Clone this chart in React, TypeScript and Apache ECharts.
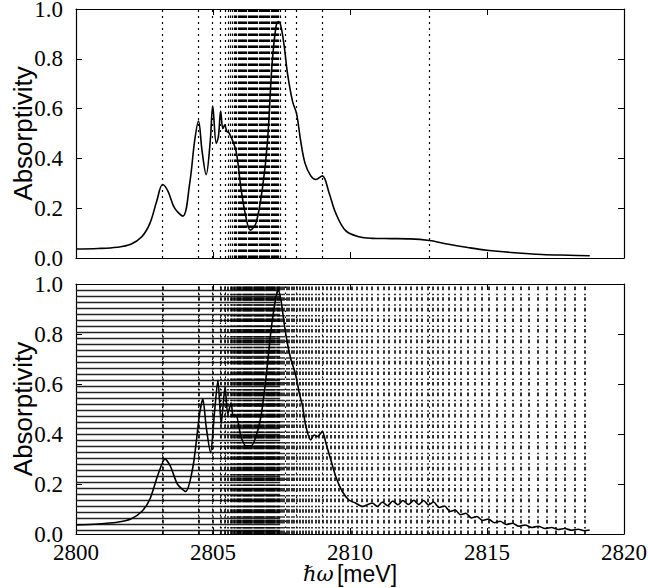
import React, { useEffect, useRef } from "react";
import * as echarts from "echarts";

const X_MIN = 2800;
const X_MAX = 2820;
const xTickInterval = 5;
const yTickInterval = 0.2;

// Top panel curve (meV, absorptivity)
const topCurve: [number, number][] = [
  [2800.0, 0.036], [2800.8, 0.038], [2801.5, 0.043], [2802.0, 0.055], [2802.4, 0.085],
  [2802.7, 0.14], [2802.95, 0.23], [2803.16, 0.295], [2803.35, 0.27], [2803.6, 0.2],
  [2803.9, 0.168], [2804.15, 0.3], [2804.33, 0.47], [2804.47, 0.55], [2804.6, 0.43],
  [2804.75, 0.335], [2804.9, 0.47], [2804.99, 0.61], [2805.12, 0.46], [2805.2, 0.49],
  [2805.28, 0.59], [2805.36, 0.52], [2805.43, 0.535], [2805.5, 0.51], [2805.6, 0.5],
  [2805.84, 0.43], [2806.02, 0.28], [2806.2, 0.165], [2806.36, 0.112], [2806.57, 0.14],
  [2806.81, 0.285], [2806.99, 0.47], [2807.15, 0.77], [2807.3, 0.93], [2807.39, 0.95],
  [2807.48, 0.93], [2807.6, 0.85], [2807.72, 0.74], [2807.9, 0.63], [2808.05, 0.58],
  [2808.2, 0.47], [2808.36, 0.38], [2808.57, 0.33], [2808.75, 0.315], [2808.99, 0.33],
  [2809.24, 0.26], [2809.48, 0.18], [2809.84, 0.11], [2810.33, 0.085], [2810.8, 0.079],
  [2811.5, 0.078], [2812.2, 0.077], [2812.9, 0.07], [2813.6, 0.055], [2814.3, 0.042],
  [2815.0, 0.031], [2816.0, 0.021], [2817.0, 0.014], [2818.0, 0.011], [2818.75, 0.009],
];

// Bottom panel curve
const bottomCurve: [number, number][] = [
  [2800.0, 0.036], [2800.8, 0.04], [2801.5, 0.047], [2802.0, 0.06], [2802.4, 0.09],
  [2802.7, 0.14], [2803.0, 0.24], [2803.25, 0.3], [2803.45, 0.27], [2803.7, 0.2],
  [2804.0, 0.17], [2804.27, 0.27], [2804.51, 0.48], [2804.63, 0.54], [2804.75, 0.43],
  [2804.91, 0.325], [2805.05, 0.48], [2805.18, 0.616], [2805.3, 0.44], [2805.44, 0.59],
  [2805.54, 0.48], [2805.66, 0.525], [2805.74, 0.47], [2805.84, 0.475], [2806.02, 0.39],
  [2806.2, 0.353], [2806.39, 0.353], [2806.57, 0.39], [2806.75, 0.47], [2806.93, 0.62],
  [2807.12, 0.816], [2807.3, 0.95], [2807.38, 0.975], [2807.48, 0.936], [2807.6, 0.84],
  [2807.72, 0.76], [2807.84, 0.7], [2808.02, 0.635], [2808.15, 0.563], [2808.27, 0.51],
  [2808.39, 0.43], [2808.57, 0.376], [2808.69, 0.396], [2808.81, 0.39], [2808.99, 0.41],
  [2809.12, 0.364], [2809.3, 0.296], [2809.48, 0.23], [2809.72, 0.17], [2809.96, 0.136],
  [2810.2, 0.124], [2810.45, 0.11], [2810.81, 0.124], [2811.0, 0.11], [2811.18, 0.128],
  [2811.37, 0.113], [2811.56, 0.132], [2811.75, 0.117], [2811.93, 0.134], [2812.13, 0.118],
  [2812.33, 0.135], [2812.51, 0.118], [2812.69, 0.134], [2812.87, 0.116], [2813.05, 0.128],
  [2813.25, 0.106], [2813.45, 0.112], [2813.65, 0.09], [2813.84, 0.096], [2814.03, 0.077],
  [2814.23, 0.083], [2814.43, 0.064], [2814.63, 0.07], [2814.84, 0.054], [2815.05, 0.06],
  [2815.27, 0.045], [2815.48, 0.051], [2815.7, 0.038], [2815.93, 0.043], [2816.16, 0.031],
  [2816.39, 0.036], [2816.63, 0.026], [2816.87, 0.031], [2817.12, 0.022], [2817.36, 0.026],
  [2817.6, 0.018], [2817.84, 0.022], [2818.08, 0.015], [2818.33, 0.019], [2818.55, 0.013],
  [2818.75, 0.016],
];

// Energies of the dotted vertical lines (meV)
const sparseLeftLevels = [2803.16, 2804.47, 2804.99, 2805.27, 2805.44];
const sparseRightLevels = [2807.62, 2808.05, 2808.99, 2812.89];
const denseLevels = [
  2805.55, 2805.63, 2805.7, 2805.76, 2805.81, 2805.86, 2805.91, 2805.95, 2805.99, 2806.03,
  2806.07, 2806.11, 2806.15, 2806.19, 2806.23, 2806.27, 2806.31, 2806.35, 2806.39, 2806.43,
  2806.47, 2806.51, 2806.55, 2806.59, 2806.63, 2806.67, 2806.71, 2806.75, 2806.79, 2806.83,
  2806.87, 2806.91, 2806.95, 2806.99, 2807.03, 2807.07, 2807.11, 2807.15, 2807.19, 2807.23,
  2807.27, 2807.31, 2807.35, 2807.39, 2807.44,
];
const rightLevels = [
  2807.52, 2807.6, 2807.68, 2807.77, 2807.86, 2807.96, 2808.06, 2808.16, 2808.27, 2808.38,
  2808.5, 2808.62, 2808.74, 2808.87, 2809.0, 2809.14, 2809.28, 2809.43, 2809.58, 2809.74,
  2809.9, 2810.07, 2810.24, 2810.42, 2810.61, 2810.81, 2811.02, 2811.23, 2811.42, 2811.63,
  2811.83, 2812.03, 2812.23, 2812.42, 2812.63, 2812.84, 2813.02, 2813.2, 2813.4, 2813.6,
  2813.82, 2814.06, 2814.3, 2814.55, 2814.81, 2815.08, 2815.36, 2815.64, 2815.93, 2816.23,
  2816.53, 2816.85, 2817.17, 2817.5, 2817.84, 2818.21, 2818.57,
];
// Horizontal rows in the lower panel (left part)
const rowLevels = [
  0.016, 0.04, 0.064, 0.088, 0.112, 0.136, 0.16, 0.184, 0.208, 0.232, 0.256, 0.28, 0.304,
  0.328, 0.352, 0.376, 0.4, 0.424, 0.448, 0.472, 0.496, 0.52, 0.544, 0.568, 0.592, 0.616,
  0.64, 0.664, 0.688, 0.712, 0.736, 0.76, 0.784, 0.808, 0.832, 0.856, 0.88, 0.904, 0.928,
  0.952, 0.976,
];
const ROW_START = 2800;
const ROW_END = 2807.45;

const SERIF = "Liberation Serif";
const SANS = "Liberation Sans";

function markSeries(idx: number, data: any[], lineStyle: any, z: number) {
  return {
    type: "line",
    xAxisIndex: idx,
    yAxisIndex: idx,
    data: [[X_MIN, 0], [X_MAX, 0]],
    symbol: "none",
    showSymbol: false,
    lineStyle: { opacity: 0 },
    silent: true,
    z,
    markLine: {
      silent: true,
      animation: false,
      symbol: ["none", "none"],
      label: { show: false },
      emphasis: { disabled: true },
      lineStyle,
      data,
    },
  };
}

function baseX(gridIndex: number, position: string, showLabels: boolean, extra: any = {}) {
  return {
    type: "value",
    gridIndex,
    position,
    min: X_MIN,
    max: X_MAX,
    interval: xTickInterval,
    axisLine: { show: true, onZero: false, lineStyle: { color: "#000", width: 1.2 } },
    axisTick: { show: true, inside: true, length: 6, lineStyle: { color: "#000", width: 1 } },
    axisLabel: {
      show: showLabels,
      fontFamily: SERIF,
      fontSize: 23,
      color: "#000",
      margin: 7,
      formatter: (v: number) => String(v),
    },
    splitLine: { show: false },
    ...extra,
  };
}

function baseY(gridIndex: number, position: string, showLabels: boolean, extra: any = {}) {
  return {
    type: "value",
    gridIndex,
    position,
    min: 0,
    max: 1,
    interval: yTickInterval,
    axisLine: { show: true, onZero: false, lineStyle: { color: "#000", width: 1.2 } },
    axisTick: { show: true, inside: true, length: 6, lineStyle: { color: "#000", width: 1 } },
    axisLabel: {
      show: showLabels,
      fontFamily: SERIF,
      fontSize: 23,
      color: "#000",
      margin: 13,
      formatter: (v: number) => v.toFixed(1),
    },
    splitLine: { show: false },
    ...extra,
  };
}

const yName = {
  name: "Absorptivity",
  nameLocation: "middle",
  nameGap: 40,
  nameMoveOverlap: false,
  nameTextStyle: { fontFamily: SANS, fontSize: 26, color: "#000" },
};

export default function App() {
  const ref = useRef<HTMLDivElement>(null);
  useEffect(() => {
    if (!ref.current) return;
    const chart = echarts.init(ref.current, null, { renderer: "svg" });
    const fineDot = { type: [2, 4], color: "#000", width: 1.2 };
    const denseDot = { type: [2.5, 3.5], color: "#000", width: 1.2 };
    const barDot = { type: [3.6, 2, 1.5, 3.5], color: "#000", width: 1.6 };

    const topSparse = [...sparseLeftLevels, ...sparseRightLevels].map((v) => ({ xAxis: v }));
    const topDense = denseLevels.map((v) => ({ xAxis: v }));
    const bottomFine = [...sparseLeftLevels, ...sparseRightLevels].map((v) => ({ xAxis: v }));
    const bottomBars = [...sparseLeftLevels, ...denseLevels, ...rightLevels].map((v) => ({ xAxis: v }));
    const bottomRows = rowLevels.map((y) => [{ coord: [ROW_START, y] }, { coord: [ROW_END, y] }]);

    chart.setOption({
      animation: false,
      backgroundColor: "#fff",
      grid: [
        { left: 76, top: 9, width: 548, height: 249, outerBoundsMode: "none", containLabel: false },
        { left: 76, top: 284, width: 548, height: 250, outerBoundsMode: "none", containLabel: false },
      ],
      xAxis: [
        baseX(0, "bottom", false),
        baseX(1, "bottom", true, {
          name: "{i|ℏω} {s|[meV]}",
          nameLocation: "middle",
          nameGap: 28,
          nameMoveOverlap: false,
          nameTextStyle: {
            rich: {
              i: { fontFamily: "DejaVu Serif", fontStyle: "italic", fontSize: 21, color: "#000" },
              s: { fontFamily: SANS, fontSize: 23, color: "#000" },
            },
          },
        }),
        baseX(0, "top", false),
        baseX(1, "top", false),
      ],
      yAxis: [
        baseY(0, "left", true, yName),
        baseY(1, "left", true, yName),
        baseY(0, "right", false),
        baseY(1, "right", false),
      ],
      series: [
        markSeries(0, topSparse, fineDot, 1),
        markSeries(0, topDense, denseDot, 1),
        {
          type: "line",
          xAxisIndex: 0,
          yAxisIndex: 0,
          data: topCurve,
          smooth: 0.35,
          symbol: "none",
          lineStyle: { color: "#000", width: 1.6 },
          z: 5,
          silent: true,
        },
        markSeries(1, bottomRows, { type: "solid", color: "#222", width: 1.4 }, 1),
        markSeries(1, bottomBars, barDot, 2),
        markSeries(1, bottomFine, { type: [1.5, 4.5], color: "#000", width: 1.1 }, 2),
        {
          type: "line",
          xAxisIndex: 1,
          yAxisIndex: 1,
          data: bottomCurve,
          smooth: 0.25,
          symbol: "none",
          lineStyle: { color: "#000", width: 1.6 },
          z: 5,
          silent: true,
        },
      ],
    });
    return () => chart.dispose();
  }, []);
  return (
    <div
      ref={ref}
      style={{ position: "fixed", left: 0, top: 0, width: 648, height: 588, background: "#fff" }}
    />
  );
}
